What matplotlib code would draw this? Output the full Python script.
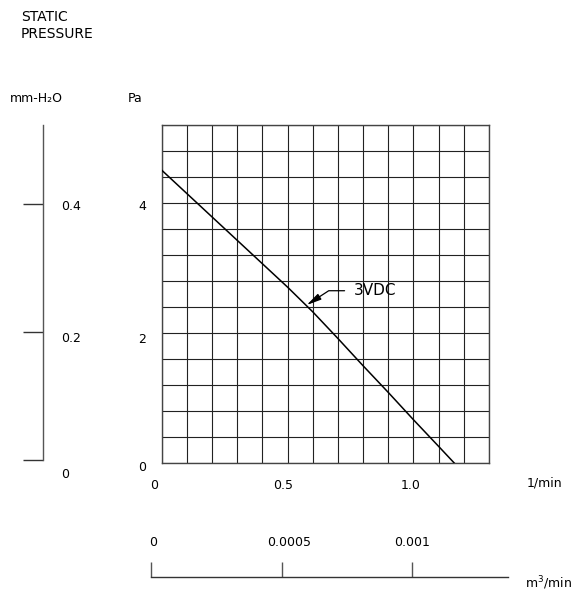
import numpy as np
import matplotlib
matplotlib.use("Agg")
import matplotlib.pyplot as plt
from matplotlib.transforms import ScaledTranslation

plt.rcParams['font.family'] = ['DejaVu Sans']

# ---- data ----
flow_lpm = [0.0, 0.1, 0.2, 0.3, 0.4, 0.5, 0.6, 0.7, 0.8, 0.9, 1.0, 1.1, 1.163]
pressure_pa = [4.51, 4.15, 3.79, 3.43, 3.07, 2.71, 2.33, 1.92, 1.50, 1.09, 0.67, 0.26, 0.0]
curve_label = "3VDC"

x_ticks_lpm = [0, 0.5, 1.0]
x_ticklabels_lpm = ["0", "0.5", "1.0"]
y_ticks_pa = [0, 2, 4]
y_ticklabels_pa = ["0", "2", "4"]
y_ticks_mm = [0, 0.2, 0.4]
y_ticklabels_mm = ["0", "0.2", "0.4"]
x_ticks_m3 = [0, 0.0005, 0.001]
x_ticklabels_m3 = ["0", "0.0005", "0.001"]

W, H = 581, 592
fig = plt.figure(figsize=(W / 100, H / 100), dpi=100)


def fx(x):
    return x / W


def fy(y):
    return 1 - y / H


def shift(lbl, dx_px, dy_px):
    lbl.set_transform(lbl.get_transform() +
                      ScaledTranslation(dx_px / 100, -dy_px / 100, fig.dpi_scale_trans))


# ---- main grid axes ----
L, R, T, B = 161.7, 489.0, 125.3, 463.3
ax = fig.add_axes([fx(L), fy(B), (R - L) / W, (B - T) / H])
ax.set_xlim(0, 1.3)
ax.set_ylim(0, 5.2)
ax.set_xticks(np.arange(0, 1.31, 0.1), minor=True)
ax.set_yticks(np.arange(0, 5.21, 0.4), minor=True)
ax.set_xticks(x_ticks_lpm)
ax.set_xticklabels(x_ticklabels_lpm)
ax.set_yticks(y_ticks_pa)
ax.set_yticklabels(y_ticklabels_pa)
ax.grid(True, which='both', color='#222222', linewidth=0.8)
ax.tick_params(which='both', length=0)
ax.tick_params(axis='y', pad=11, labelsize=9)
ax.tick_params(axis='x', pad=11, labelsize=9)
for s in ax.spines.values():
    s.set_color('#444444')
    s.set_linewidth(1.0)

ax.plot(flow_lpm, pressure_pa, color='black', linewidth=1.1, zorder=3)

for lbl, dx in zip(ax.get_xticklabels(), [-8, -4, -3]):
    shift(lbl, dx, 0)
for lbl, dy in zip(ax.get_yticklabels(), [3, 5, 2]):
    shift(lbl, 0, dy)

# curve annotation
ax.annotate(curve_label, xy=(0.576, 2.435), xytext=(0.765, 2.655),
            ha='left', va='center', fontsize=11,
            arrowprops=dict(arrowstyle='-|>,head_length=0.8,head_width=0.18',
                            connectionstyle='angle,angleA=180,angleB=33,rad=0',
                            relpos=(0, 0.5), shrinkA=5, shrinkB=0,
                            color='black', linewidth=0.9, mutation_scale=11),
            zorder=4)

# ---- left mm-H2O scale ----
LT, LB = 125.0, 460.0
axl = fig.add_axes([fx(20), fy(LB), (43.3 - 20) / W, (LB - LT) / H])
axl.set_ylim(0, (LB - LT) / 639.25)
axl.patch.set_visible(False)
for k in ['left', 'top', 'bottom']:
    axl.spines[k].set_visible(False)
axl.spines['right'].set_color('#555555')
axl.spines['right'].set_linewidth(1.0)
axl.set_xticks([])
axl.yaxis.tick_right()
axl.set_yticks(y_ticks_mm)
axl.set_yticklabels(y_ticklabels_mm)
axl.tick_params(axis='y', direction='in', length=14.4, width=1.0, color='#333333',
                pad=13, labelsize=9)
for lbl, dy in zip(axl.get_yticklabels(), [13, 5, 1]):
    shift(lbl, 0, dy)

# ---- bottom m3/min scale ----
ML, MR, MY = 150.7, 508.3, 576.7
axm = fig.add_axes([fx(ML), fy(MY) - 0.02, (MR - ML) / W, 0.02])
axm.set_xlim(0, (MR - ML) / 261.6 * 0.001)
axm.patch.set_visible(False)
for k in ['left', 'right', 'bottom']:
    axm.spines[k].set_visible(False)
axm.spines['top'].set_color('#333333')
axm.spines['top'].set_linewidth(1.0)
axm.set_yticks([])
axm.xaxis.tick_top()
axm.set_xticks(x_ticks_m3)
axm.set_xticklabels(x_ticklabels_m3)
axm.tick_params(axis='x', direction='out', length=10.8, width=1.0, color='#555555',
                pad=9, labelsize=9)
for lbl, dx in zip(axm.get_xticklabels(), [2, 8, 0]):
    shift(lbl, dx, 0)

# ---- texts ----
fig.text(fx(21), fy(16.7), "STATIC", fontsize=10, va='center', ha='left')
fig.text(fx(21), fy(34.3), "PRESSURE", fontsize=10, va='center', ha='left')
fig.text(fx(10), fy(98), "mm-H₂O", fontsize=9, va='center', ha='left')
fig.text(fx(128), fy(98), "Pa", fontsize=9, va='center', ha='left')
fig.text(fx(527), fy(483), "1/min", fontsize=9, va='center', ha='left')
fig.text(fx(525), fy(583), "m$^3$/min", fontsize=9, va='center', ha='left')

fig.savefig("out.png", dpi=100)
